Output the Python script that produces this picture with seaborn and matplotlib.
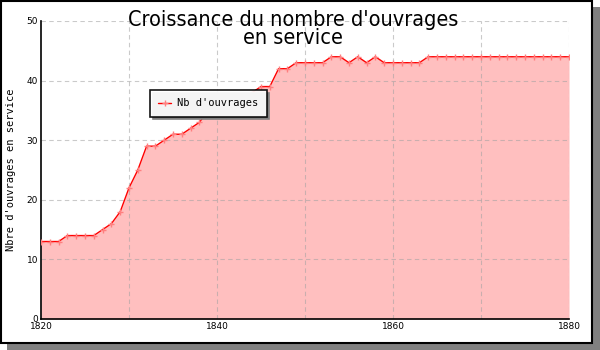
import matplotlib
matplotlib.use("Agg")
import matplotlib.pyplot as plt
import matplotlib.ticker as mticker
from matplotlib.patches import Rectangle
import seaborn as sns
import pandas as pd

years = list(range(1820, 1881))
counts = [13, 13, 13, 14, 14, 14, 14, 15, 16, 18,
          22, 25, 29, 29, 30, 31, 31, 32, 33, 35,
          36, 34, 35, 37, 38, 39, 39, 42, 42, 43,
          43, 43, 43, 44, 44, 43, 44, 43, 44, 43,
          43, 43, 43, 43, 44, 44, 44, 44, 44, 44,
          44, 44, 44, 44, 44, 44, 44, 44, 44, 44,
          44]
title = "Croissance du nombre d'ouvrages\nen service"
ylabel = "Nbre d'ouvrages en service"
series_name = "Nb d'ouvrages"

df = pd.DataFrame({"annee": years, "n": counts})

sns.set_theme(style="white")
plt.rcParams['font.family'] = ['DejaVu Sans']
plt.rcParams['text.color'] = 'black'
plt.rcParams['xtick.color'] = 'black'
plt.rcParams['ytick.color'] = 'black'
plt.rcParams['axes.labelcolor'] = 'black'

fig = plt.figure(figsize=(6, 3.5), dpi=100)
W, H = 600, 350
# shadow + bordered panel
fig.patches.append(Rectangle((7 / W, 0), (W - 7) / W, (H - 7) / H, transform=fig.transFigure,
                             facecolor="#808080", edgecolor="none", zorder=-2))
fig.patches.append(Rectangle((0.5 / W, 7 / H), 591 / W, (H - 7.5) / H, transform=fig.transFigure,
                             facecolor="white", edgecolor="black", linewidth=1.5, zorder=-1))

ax = fig.add_axes([41 / W, 31 / H, 528 / W, 298 / H])
ax.patch.set_alpha(0)

ax.fill_between(df["annee"], df["n"], 0, color="#ffbfbf", zorder=1, linewidth=0)
sns.lineplot(data=df, x="annee", y="n", ax=ax, color="red", linewidth=1,
             marker="+", markersize=4, markeredgecolor="#ff7f7f", markeredgewidth=1,
             label=series_name, zorder=3)

for xv in range(1830, 1881, 10):
    ax.axvline(xv, color="#a0a0a0", alpha=0.55, linestyle=(0, (4, 3)), linewidth=0.8, zorder=2)
for yv in range(10, 51, 10):
    ax.axhline(yv, color="#a0a0a0", alpha=0.55, linestyle=(0, (4, 3)), linewidth=0.8, zorder=2)

ax.set_xlim(1820, 1880)
ax.set_ylim(0, 50)
ax.xaxis.set_major_locator(mticker.MultipleLocator(5))
ax.xaxis.set_minor_locator(mticker.MultipleLocator(1))
ax.xaxis.set_major_formatter(mticker.FuncFormatter(lambda v, p: f"{int(v)}" if int(round(v)) % 20 == 0 else ""))
ax.yaxis.set_major_locator(mticker.MultipleLocator(10))
ax.yaxis.set_minor_locator(mticker.MultipleLocator(2))
ax.tick_params(axis="both", which="both", direction="in", color="black", labelsize=6.5, pad=2)
ax.tick_params(axis="x", which="major", length=5, width=0.8)
ax.tick_params(axis="x", which="minor", length=3, width=0.8)
ax.tick_params(axis="y", which="both", length=4, width=0.8)
for s in ["top", "right"]:
    ax.spines[s].set_visible(False)
for s in ["left", "bottom"]:
    ax.spines[s].set_color("black")
    ax.spines[s].set_linewidth(1.2)

ax.set_xlabel("")
ax.set_ylabel(ylabel, family="DejaVu Sans Mono", fontsize=7.5, labelpad=8)

fig.text(293 / W, 1 - 10 / H, title, ha="center", va="top", fontsize=15.5, color="black",
         linespacing=0.9, family="DejaVu Sans", fontstretch="condensed")

leg = ax.legend(loc="upper left", bbox_to_anchor=((150 - 41) / 528, (319 - 90) / 298),
                frameon=True, shadow={"color": "#808080", "alpha": 1}, fancybox=False,
                prop={"family": "DejaVu Sans Mono", "size": 7.5}, handlelength=1.2,
                handletextpad=0.6, borderpad=0.8, borderaxespad=0,
                facecolor="white", framealpha=0.92, edgecolor="black")
leg.get_frame().set_linewidth(1.2)

fig.savefig("out.png", dpi=100)
